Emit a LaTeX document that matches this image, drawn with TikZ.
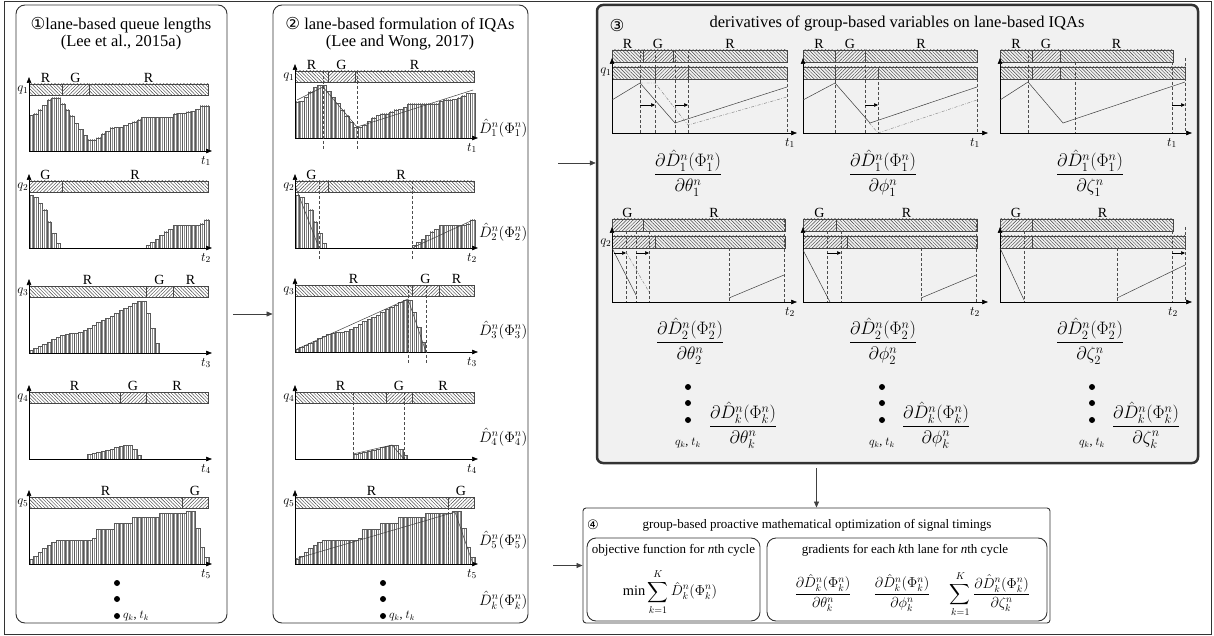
\RequirePackage{fix-cm}
\documentclass[tikz,border=0pt]{standalone}
\usepackage{amsmath}
\usepackage{fontspec}
\setmainfont{Liberation Serif}
\newfontfamily\circfont{DejaVu Sans}
\usetikzlibrary{arrows.meta,positioning,patterns.meta}
\definecolor{panelgray}{HTML}{F1F1F1}
\definecolor{hatchgray}{HTML}{454545}
\newcommand\Dhat[1]{\hat{D}_{#1}^{n}\!\left(\Phi_{#1}^{n}\right)}
\newcommand\dDdx[2]{\dfrac{\partial\Dhat{#1}}{\partial#2_{#1}^{n}}}
% signal bar between two heights, list of from/to/phase
\newcommand\sigbar[3]{\foreach \a/\b/\l in {#3}{\draw[sig\l] (\a,#1) rectangle (\b,#2);}}
\newcommand\siglabels[2]{\foreach \a/\b/\l in {#2}{\node[sglbl] at ({(\a+\b)/2},#1) {\l};}}
% queue-length bars, 4.5 wide from x=29
\newcommand\qbars[1]{\foreach \h [count=\i from 0] in {#1}{\ifnum\h>0 \draw[qbar] ({29+4.5*\i},0) rectangle ++(4.5,-\h);\fi}}
\newcommand\lanechart[3]{%
  \sigbar{-67}{-56}{#2}\siglabels{-67}{#2}\qbars{#3}
  \draw[qaxis] (29,0) -- (212,0);
  \draw[qaxis] (29,0) -- (29,-74);
  \node[qlbl] (q#1) at (29,-61) {$q_{#1}$};
  \node[tlbl] (t#1) at (206,10) {$t_{#1}$};}
\newcommand\derivchart[3]{%
  \sigbar{-83}{-71}{#1}\siglabels{-83}{#1}\sigbar{-66}{-54}{#2}
  \draw[qaxis] (0,0) -- (#3,0);
  \draw[qaxis] (0,0) -- (0,-75);}

\begin{document}
\begin{tikzpicture}[x=1pt,y=-1pt,
 panel/.style={draw=black!80,line width=0.9pt,rounded corners=9pt},
 ttl/.style={inner sep=0pt,font=\fontsize{16.5}{18}\selectfont},
 ttlsm/.style={inner sep=0pt,font=\fontsize{13}{15}\selectfont},
 sglbl/.style={anchor=south,inner sep=1pt,font=\fontsize{14}{15}\selectfont},
 qlbl/.style={anchor=east,inner sep=0.5pt,font=\fontsize{13}{14}\selectfont},
 tlbl/.style={inner sep=0pt,font=\fontsize{13}{14}\selectfont},
 dlbl/.style={anchor=west,inner sep=0pt,font=\fontsize{15}{17}\selectfont},
 fracl/.style={inner sep=0pt,font=\fontsize{14.4}{16}\selectfont},
 fracb/.style={inner sep=0pt,font=\fontsize{18}{20}\selectfont},
 qaxis/.style={-{Triangle[length=6pt,width=4.5pt]},line width=0.6pt},
 flow/.style={-{Triangle[length=6pt,width=5pt]},line width=0.6pt,draw=black!75},
 qbar/.style={draw=black!65,line width=0.3pt,pattern={Lines[angle=90,distance=2pt,line width=0.2pt]},pattern color=black!45},
 sigR/.style={draw=hatchgray,line width=0.4pt,pattern={Lines[angle=-45,distance=2.4pt,line width=0.45pt]},pattern color=hatchgray},
 sigG/.style={draw=hatchgray,line width=0.4pt,pattern={Lines[angle=45,distance=2.4pt,line width=0.45pt]},pattern color=hatchgray},
 dsh/.style={draw=black!70,line width=0.45pt,dash pattern=on 3pt off 2pt},
 dd/.style={draw=black!50,line width=0.45pt,dash pattern=on 3pt off 1.5pt on 0.7pt off 1.5pt},
 qline/.style={draw=black!75,line width=0.5pt},
 mvarr/.style={-{Triangle[length=4pt,width=3.5pt]},line width=0.5pt},
 bigdot/.style={circle,fill,inner sep=0pt,minimum size=6pt}]
\useasboundingbox (0,0) rectangle (1214,636);
\draw[line width=1pt,black!80] (4,2) rectangle (1211,634);

% panels
\node[panel,minimum width=211,minimum height=618] (p1) at (121.5,314) {};
\node[panel,minimum width=255,minimum height=618] (p2) at (400.5,314) {};
\node[panel,line width=2.5pt,fill=panelgray,rounded corners=6pt,minimum width=601,minimum height=458] (p3) at (897.5,234) {};
\node[panel,rounded corners=3pt,minimum width=467,minimum height=115] (p4) at (816.5,565.5) {};
\node[panel,minimum width=173,minimum height=83] (obj) at (673.5,579.5) {};
\node[panel,minimum width=280,minimum height=83] (grad) at (907,579.5) {};

% titles
\node[ttl] (t1a) at (121,25) {{\circfont ①}lane-based queue lengths};
\node[ttl] (t1b) at (121,43) {(Lee et al., 2015a)};
\node[ttl] (t2a) at (400,25) {{\circfont ②} lane-based formulation of IQAs};
\node[ttl] (t2b) at (400,43) {(Lee and Wong, 2017)};
\node[ttl] (c3) at (617,25) {{\circfont ③}};
\node[ttl] (t3) at (897,23) {derivatives of group-based variables on lane-based IQAs};
\node[ttlsm] (c4) at (593,525) {{\circfont ④}};
\node[ttlsm] (t4) at (817,525) {group-based proactive mathematical optimization of signal timings};

% (1) lane-based queue lengths
\begin{scope}[shift={(0,151)}]
\lanechart{1}{29/62/R,62/89/G,89/208/R}{36,37,41,46,51,53,53,47,41,35,28,22,16,11,11,13,17,20,23,24,24,26,28,29,31,34,34,34,34,34,34,34,37,38,38,39,40,42,45,45}
\end{scope}
\begin{scope}[shift={(0,248)}]
\lanechart{2}{29/62/G,62/208/R}{53,51,45,38,26,15,5,0,0,0,0,0,0,0,0,0,0,0,0,0,0,0,0,0,0,0,3,6,9,13,16,19,23,23,23,23,23,23,24,28}
\end{scope}
\begin{scope}[shift={(0,353)}]
\lanechart{3}{29/146/R,146/173/G,173/208/R}{3,5,7,9,11,14,16,18,19,20,20,21,23,25,28,31,33,35,37,40,43,45,47,50,52,52,40,25,10,0,0,0,0,0,0,0,0,0,0,0}
\end{scope}
\begin{scope}[shift={(0,459)}]
\lanechart{4}{29/120/R,120/146/G,146/208/R}{0,0,0,0,0,0,0,0,0,0,0,0,0,5,6,7,8,9,10,12,13,14,14,10,4,0,0,0,0,0,0,0,0,0,0,0,0,0,0,0}
\end{scope}
\begin{scope}[shift={(0,564)}]
\lanechart{5}{29/182/R,182/208/G}{5,8,12,16,19,22,24,24,24,24,24,24,24,24,26,35,35,35,35,41,41,41,41,47,47,47,47,47,47,51,51,51,51,51,51,53,53,36,17,7}
\end{scope}
\node[bigdot] (da1) at (117,583) {};
\node[bigdot] (db1) at (117,599) {};
\node[bigdot] (dc1) at (117,616) {};
\node[anchor=west,inner sep=0pt,font=\fontsize{12}{13}\selectfont] (qk1) at (123,616) {$q_k$, $t_k$};

% (2) lane-based formulation of IQAs
\begin{scope}[shift={(266,138)}]
\lanechart{1}{29/62/R,62/89/G,89/208/R}{36,37,41,46,51,53,53,47,41,35,28,22,16,11,11,13,17,20,23,24,24,26,28,29,31,34,34,34,34,34,34,34,37,38,38,39,40,42,45,45}
\draw[dsh] (57,-67) -- (57,12);
\draw[dsh] (91,-67) -- (91,12);
\draw[qline] (31,-38) -- (57,-51) -- (91,-11) -- (207,-48);
\end{scope}
\begin{scope}[shift={(266,248)}]
\lanechart{2}{29/62/G,62/208/R}{53,51,45,38,26,15,5,0,0,0,0,0,0,0,0,0,0,0,0,0,0,0,0,0,0,0,3,6,9,13,16,19,23,23,23,23,23,23,24,28}
\draw[dsh] (53,-67) -- (53,12);
\draw[dsh] (146,-67) -- (146,12);
\draw[qline] (30,-60) -- (53,0);
\draw[qline] (146,0) -- (207,-28);
\end{scope}
\begin{scope}[shift={(266,352)}]
\lanechart{3}{29/146/R,146/173/G,173/208/R}{3,5,7,9,11,14,16,18,19,20,20,21,23,25,28,31,33,35,37,40,43,45,47,50,52,52,40,25,10,0,0,0,0,0,0,0,0,0,0,0}
\draw[dsh] (142,-67) -- (142,12);
\draw[dsh] (160,-67) -- (160,12);
\draw[qline] (29,-2) -- (142,-53) -- (160,0);
\end{scope}
\begin{scope}[shift={(266,459)}]
\lanechart{4}{29/120/R,120/146/G,146/208/R}{0,0,0,0,0,0,0,0,0,0,0,0,0,5,6,7,8,9,10,12,13,14,14,10,4,0,0,0,0,0,0,0,0,0,0,0,0,0,0,0}
\draw[dsh] (87,-67) -- (87,0);
\draw[dsh] (138,-67) -- (138,0);
\draw[qline] (87,-5) -- (126,-14) -- (138,0);
\end{scope}
\begin{scope}[shift={(266,564)}]
\lanechart{5}{29/182/R,182/208/G}{5,8,12,16,19,22,24,24,24,24,24,24,24,24,26,35,35,35,35,41,41,41,41,47,47,47,47,47,47,51,51,51,51,51,51,53,53,36,17,7}
\draw[dsh] (182,-67) -- (182,0);
\draw[qline] (29,-5) -- (189,-52) -- (207,0);
\end{scope}
\node[dlbl] (D1) at (479,128) {$\Dhat{1}$};
\node[dlbl] (D2) at (479,232) {$\Dhat{2}$};
\node[dlbl] (D3) at (479,330) {$\Dhat{3}$};
\node[dlbl] (D4) at (479,437) {$\Dhat{4}$};
\node[dlbl] (D5) at (479,540) {$\Dhat{5}$};
\node[dlbl] (Dk) at (479,600) {$\Dhat{k}$};
\node[bigdot] (da2) at (383,583) {};
\node[bigdot] (db2) at (383,599) {};
\node[bigdot] (dc2) at (383,616) {};
\node[anchor=west,inner sep=0pt,font=\fontsize{12}{13}\selectfont] (qk2) at (389,616) {$q_k$, $t_k$};

% (3) derivatives, first row: lane 1
\begin{scope}[shift={(612,133)}]
\derivchart{0/31/R,31/61/G,61/175/R}{0/43/R,43/76/G,76/175/R}{185}
\foreach \x in {28,43,63,76} \draw[dsh] (\x,-83) -- (\x,0);
\draw[dsh] (175,-54) -- (175,0);
\draw[qline] (0,-33) -- (28,-50) -- (63,-10) -- (175,-46);
\draw[dd] (28,-50) -- (43,-50) -- (76,-8) -- (175,-36);
\draw[mvarr] (28,-28) -- (43,-28);
\draw[mvarr] (63,-28) -- (76,-28);
\node[qlbl] (dq1) at (0,-61) {$q_1$};
\node[tlbl] (dt11) at (178,10) {$t_1$};
\end{scope}
\begin{scope}[shift={(803,133)}]
\derivchart{0/32/R,32/62/G,62/174/R}{0/32/R,32/75/G,75/174/R}{185}
\foreach \x in {32,62} \draw[dsh] (\x,-83) -- (\x,0);
\draw[dsh] (75,-66) -- (75,0);
\draw[dsh] (174,-54) -- (174,0);
\draw[qline] (0,-33) -- (32,-50) -- (67,-10) -- (174,-46);
\draw[dd] (62,-15) -- (75,0) -- (174,-33);
\draw[mvarr] (62,-28) -- (75,-28);
\node[tlbl] (dt12) at (172,10) {$t_1$};
\end{scope}
\begin{scope}[shift={(1000,133)}]
\derivchart{0/32/R,32/60/G,60/173/R}{0/32/R,32/60/G,60/185/R}{192}
\draw[dsh] (28,-83) -- (28,0);
\draw[dsh] (75,-71) -- (75,0);
\draw[dsh] (172,-71) -- (172,0);
\draw[dsh] (185,-75) -- (185,0);
\draw[qline] (0,-33) -- (28,-51) -- (63,-10) -- (185,-51);
\draw[mvarr] (172,-28) -- (185,-28);
\node[tlbl] (dt13) at (172,10) {$t_1$};
\end{scope}
% second row: lane 2
\begin{scope}[shift={(612,302)}]
\derivchart{0/31/G,31/173/R}{0/43/G,43/173/R}{185}
\foreach \x in {14,24,37} \draw[dsh] (\x,-71) -- (\x,0);
\draw[dsh] (117,-54) -- (117,0);
\draw[dsh] (172,-83) -- (172,0);
\draw[qline] (0,-54) -- (24,-7);
\draw[dd] (14,-50) -- (37,-10);
\draw[qline] (117,-4) -- (172,-27);
\draw[mvarr] (2,-49) -- (14,-49);
\draw[mvarr] (24,-49) -- (37,-49);
\node[qlbl] (dq2) at (0,-59) {$q_2$};
\node[tlbl] (dt21) at (178,10) {$t_2$};
\end{scope}
\begin{scope}[shift={(803,302)}]
\derivchart{0/33/G,33/174/R}{0/44/G,44/174/R}{185}
\foreach \x in {24,38} \draw[dsh] (\x,-71) -- (\x,0);
\draw[dsh] (118,-54) -- (118,0);
\draw[dsh] (173,-83) -- (173,0);
\draw[qline] (0,-52) -- (27,0);
\draw[qline] (118,-4) -- (173,-27);
\draw[mvarr] (24,-49) -- (38,-49);
\node[tlbl] (dt22) at (172,10) {$t_2$};
\end{scope}
\begin{scope}[shift={(1000,302)}]
\derivchart{0/32/G,32/173/R}{0/32/G,32/185/R}{192}
\draw[dsh] (24,-71) -- (24,0);
\draw[dsh] (117,-54) -- (117,0);
\draw[dsh] (172,-71) -- (172,0);
\draw[dsh] (185,-75) -- (185,0);
\draw[qline] (0,-54) -- (24,-2);
\draw[qline] (117,-4) -- (185,-37);
\draw[mvarr] (172,-49) -- (185,-49);
\node[tlbl] (dt23) at (173,10) {$t_2$};
\end{scope}
\node[fracb] (f1a) at (688,173) {$\dDdx{1}{\theta}$};
\node[fracb] (f1b) at (883,173) {$\dDdx{1}{\phi}$};
\node[fracb] (f1c) at (1090,173) {$\dDdx{1}{\zeta}$};
\node[fracb] (f2a) at (690,341) {$\dDdx{2}{\theta}$};
\node[fracb] (f2b) at (883,341) {$\dDdx{2}{\phi}$};
\node[fracb] (f2c) at (1090,341) {$\dDdx{2}{\zeta}$};
\foreach \c/\x/\f in {a/688/740,b/882/932,c/1092/1143}{
  \node[bigdot] (e1\c) at (\x,387) {};
  \node[bigdot] (e2\c) at (\x,403) {};
  \node[bigdot] (e3\c) at (\x,420) {};
  \node[inner sep=0pt,font=\fontsize{12}{13}\selectfont] (qk3\c) at (\x,443) {$q_k$, $t_k$};}
\node[fracb] (fka) at (743,425) {$\dDdx{k}{\theta}$};
\node[fracb] (fkb) at (936,425) {$\dDdx{k}{\phi}$};
\node[fracb] (fkc) at (1146,425) {$\dDdx{k}{\zeta}$};

% (4) optimization
\node[ttlsm] (objt) at (673.5,550) {objective function for \textit{n}th cycle};
\node[fracl] (objf) at (670,592) {$\displaystyle\min\sum_{k=1}^{K}\Dhat{k}$};
\node[ttlsm] (gradt) at (905,550) {gradients for each \textit{k}th lane for \textit{n}th cycle};
\node[fracl] (g1) at (823,593) {$\dDdx{k}{\theta}$};
\node[fracl] (g2) at (902,593) {$\dDdx{k}{\phi}$};
\node[fracl] (g3) at (990,594) {$\displaystyle\sum_{k=1}^{K}\dDdx{k}{\zeta}$};

% connectors
\coordinate (a23) at (558,163);
\coordinate (a24) at (553,565.5);
\draw[flow] ([xshift=6pt]p1.east) -- (p2.west);
\draw[flow] (a23) -- (a23 -| p3.west);
\draw[flow] ([yshift=-4pt]p3.south -| p4.north) -- (p4.north);
\draw[flow] (a24) -- (a24 -| p4.west);
\end{tikzpicture}
\end{document}
